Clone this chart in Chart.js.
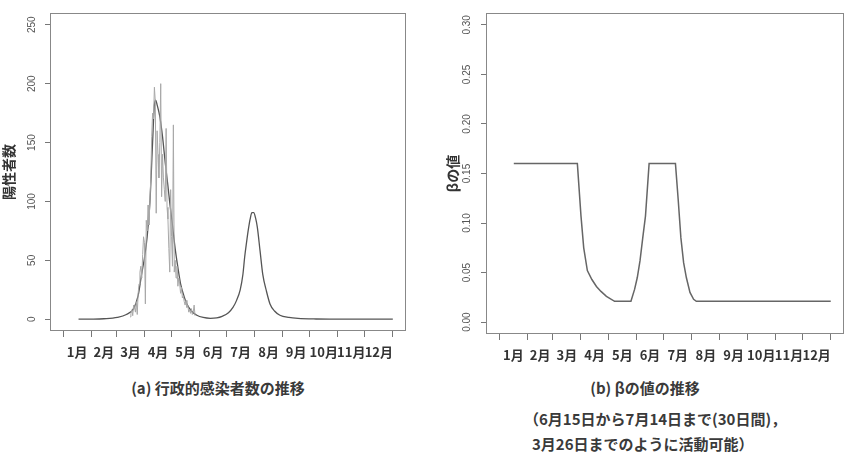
<!DOCTYPE html>
<html>
<head>
<meta charset="utf-8">
<script src="https://cdn.jsdelivr.net/npm/chart.js@4"></script>
<style>
  body { margin: 0; background: #fff; }
  #wrap { position: relative; width: 855px; height: 456px; overflow: hidden; }
  canvas { position: absolute; top: 0; }
  .cap { position: absolute; font-family: "Noto Sans CJK JP", sans-serif; font-weight: bold; color: #3a3a3a; white-space: nowrap; }
</style>
</head>
<body>
<div id="wrap">
  <canvas id="left" width="420" height="372" style="left:0"></canvas>
  <canvas id="right" width="425" height="375" style="left:430px"></canvas>
  <div class="cap" style="left:0;width:436px;top:377px;text-align:center;font-size:15px;">(a) 行政的感染者数の推移</div>
  <div class="cap" style="left:440px;width:410px;top:377px;text-align:center;font-size:15px;">(b) βの値の推移</div>
  <div class="cap" style="left:524px;top:408px;font-size:15px;">（6月15日から7月14日まで(30日間)，</div>
  <div class="cap" style="left:532px;top:433px;font-size:15px;">3月26日までのように活動可能）</div>
</div>
<script>
// month boundaries (day of year) and labels
const monthStarts = [0, 31, 59, 90, 120, 151, 181, 212, 243, 273, 304, 334, 365];
const monthLabels = ['1月', '2月', '3月', '4月', '5月', '6月', '7月', '8月', '9月', '10月', '11月', '12月'];

// (a) model curve
const modelDays = [17, 30, 45, 60, 70, 78, 83, 87, 90, 93, 96, 99, 101, 102.5, 104, 107, 110, 113, 116, 118, 121, 124, 127, 130, 134, 137, 142, 148, 155, 163, 170, 176, 183, 188, 192, 196, 199, 201, 203, 205, 207, 209, 211, 213, 215, 218, 221, 225, 229, 234, 240, 250, 260, 280, 300, 365];
const modelValues = [0, 0.1, 0.4, 1.5, 4, 9, 20, 39, 52, 70, 99, 150, 182, 186, 182, 172, 155, 133, 113, 99, 80, 60, 44, 30, 19, 13, 7, 3.4, 1.5, 0.8, 1.2, 2.5, 5.5, 10, 16, 25, 38, 53, 65, 76, 85, 90.5, 90.5, 86, 78, 58, 38, 24, 13, 7, 3.4, 1.5, 0.7, 0.2, 0.1, 0];

// (a) reported cases
const obsDays = [74, 75, 76, 77, 78, 79, 80, 81, 82, 83, 84, 85, 86, 87, 88, 89, 90, 91, 92, 93, 94, 95, 96, 97, 98, 99, 100, 101, 102, 103, 104, 105, 106, 107, 108, 109, 110, 111, 112, 113, 114, 115, 116, 117, 118, 119, 120, 121, 122, 123, 124, 125, 126, 127, 128, 129, 130, 131, 132, 133, 134, 135, 136, 137, 138, 139, 140, 141, 142, 143, 144, 145, 146];
const obsValues = [2, 5, 8, 3, 12, 10, 6, 15, 4, 22, 30, 40, 45, 35, 55, 70, 65, 13, 84, 75, 97, 80, 100, 120, 155, 175, 170, 197, 185, 90, 160, 140, 120, 150, 200, 104, 140, 120, 110, 100, 162, 95, 85, 60, 40, 110, 70, 45, 165, 40, 50, 35, 45, 28, 35, 30, 22, 27, 18, 20, 15, 12, 16, 10, 12, 6, 8, 5, 9, 4, 6, 12, 3];

// (b) beta
const betaDays = [16, 86, 90, 93, 97, 102, 107, 112, 118, 127, 145, 149, 152, 155, 158, 161, 165, 194, 197, 200, 203, 206, 210, 214, 217, 365];
const betaValues = [0.16, 0.16, 0.107, 0.075, 0.052, 0.043, 0.036, 0.031, 0.026, 0.021, 0.021, 0.033, 0.045, 0.062, 0.085, 0.107, 0.16, 0.16, 0.124, 0.085, 0.060, 0.045, 0.030, 0.023, 0.021, 0.021];

const leftTicks = [0, 50, 100, 150, 200, 250];
const rightTicks = [0, 0.05, 0.10, 0.15, 0.20, 0.25, 0.30];

const monthMids = monthStarts.slice(0, -1).map((d, i) => (d + monthStarts[i + 1]) / 2);

const toPoints = (xs, ys) => xs.map((x, i) => ({ x: x, y: ys[i] }));

const boxPlugin = {
  id: 'box',
  afterDraw(chart) {
    const a = chart.chartArea;
    const ctx = chart.ctx;
    ctx.save();
    ctx.strokeStyle = '#888';
    ctx.lineWidth = 1;
    ctx.strokeRect(a.left + 0.5, a.top + 0.5, a.right - a.left - 1, a.bottom - a.top - 1);
    ctx.restore();
  }
};

function xScale() {
  return {
    type: 'linear',
    min: -14.6,
    max: 379.6,
    bounds: 'data',
    border: { display: false },
    afterBuildTicks: s => {
      s.ticks = monthStarts.concat(monthMids).sort((a, b) => a - b).map(v => ({ value: v }));
    },
    afterFit: s => { s.height = 41; },
    grid: {
      drawOnChartArea: false,
      tickLength: 6,
      tickColor: c => (c.tick && monthStarts.includes(c.tick.value)) ? '#777' : 'rgba(0,0,0,0)'
    },
    ticks: {
      autoSkip: false,
      maxRotation: 0,
      padding: 7,
      color: '#333',
      font: { family: '"Noto Sans CJK JP"', size: 13, weight: 'bold' },
      callback: v => {
        const i = monthMids.indexOf(v);
        return i >= 0 ? monthLabels[i] : '';
      }
    }
  };
}

function yScale(min, max, tickVals, width, title, titlePad, fmt) {
  return {
    type: 'linear',
    min: min,
    max: max,
    border: { display: false },
    afterBuildTicks: s => { s.ticks = tickVals.map(v => ({ value: v })); },
    afterFit: s => { s.width = width; },
    grid: { drawOnChartArea: false, tickLength: 5, tickColor: '#777' },
    ticks: {
      minRotation: 90,
      maxRotation: 90,
      crossAlign: 'center',
      padding: 4,
      color: '#555',
      font: { family: '"Liberation Sans"', size: 10 },
      callback: fmt
    },
    title: {
      display: true,
      text: title,
      color: '#333',
      padding: { top: titlePad, bottom: 0 },
      font: { family: '"Noto Sans CJK JP"', size: 14, weight: 'bold' }
    }
  };
}

new Chart(document.getElementById('left'), {
  type: 'line',
  data: {
    datasets: [
      { data: toPoints(obsDays, obsValues), borderColor: '#a8a8a8', borderWidth: 1, pointRadius: 0, tension: 0 },
      { data: toPoints(modelDays, modelValues), borderColor: '#555', borderWidth: 1.3, pointRadius: 0, cubicInterpolationMode: 'monotone' }
    ]
  },
  options: {
    responsive: false,
    animation: false,
    layout: { padding: { top: 13, right: 14, left: 0, bottom: 0 } },
    plugins: { legend: { display: false }, tooltip: { enabled: false } },
    scales: {
      x: xScale(),
      y: yScale(-10, 260, leftTicks, 50, '陽性者数', 0, v => String(v))
    }
  },
  plugins: [boxPlugin]
});

new Chart(document.getElementById('right'), {
  type: 'line',
  data: {
    datasets: [
      { data: toPoints(betaDays, betaValues), borderColor: '#666', borderWidth: 1.5, pointRadius: 0, tension: 0 }
    ]
  },
  options: {
    responsive: false,
    animation: false,
    layout: { padding: { top: 13, right: 11, left: 0, bottom: 0 } },
    plugins: { legend: { display: false }, tooltip: { enabled: false } },
    scales: {
      x: xScale(),
      y: yScale(-0.012, 0.312, rightTicks, 56, 'βの値', 14, v => v.toFixed(2))
    }
  },
  plugins: [boxPlugin]
});
</script>
</body>
</html>
